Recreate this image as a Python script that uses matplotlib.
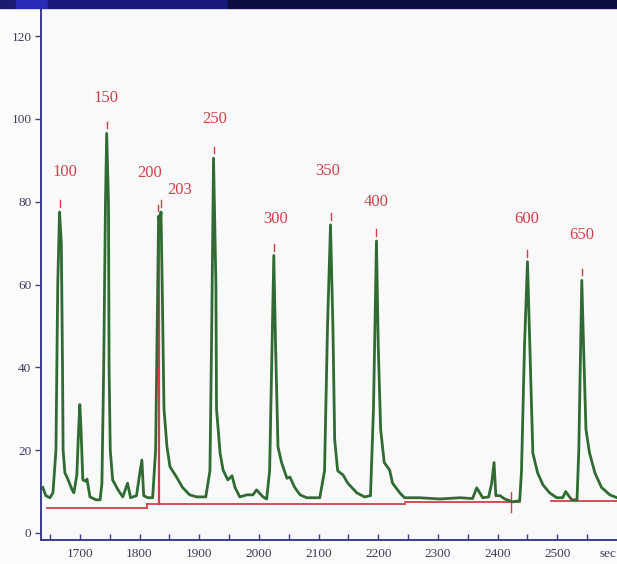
import matplotlib
matplotlib.use("Agg")
import matplotlib.pyplot as plt
from matplotlib.patches import Rectangle

# chromatogram trace (time in sec, signal)
trace_t = [1638, 1643, 1650, 1655, 1660, 1663, 1666, 1669, 1671, 1672, 1675, 1680,
           1687, 1690, 1695, 1698, 1700, 1702, 1705, 1710, 1712, 1717, 1727, 1734,
           1737, 1740, 1743, 1745, 1748, 1749, 1751, 1755, 1764, 1772, 1780, 1785,
           1795, 1800, 1804, 1807, 1814, 1822, 1827, 1831, 1832, 1834, 1836, 1838,
           1841, 1846, 1851, 1862, 1872, 1884, 1896, 1911, 1918, 1921, 1924, 1928,
           1929, 1935, 1940, 1948, 1955, 1960, 1968, 1980, 1990, 1996, 2007, 2013,
           2018, 2022, 2025, 2028, 2032, 2038, 2047, 2052, 2060, 2069, 2080, 2102,
           2110, 2115, 2120, 2124, 2127, 2132, 2141, 2149, 2164, 2177, 2187, 2192,
           2197, 2200, 2204, 2210, 2219, 2224, 2236, 2244, 2269, 2303, 2337, 2358,
           2365, 2375, 2385, 2390, 2394, 2397, 2404, 2412, 2425, 2437, 2440, 2445,
           2450, 2454, 2459, 2467, 2476, 2487, 2499, 2509, 2514, 2524, 2533, 2536,
           2539, 2541, 2544, 2548, 2554, 2563, 2574, 2588, 2600]
trace_y = [11, 9, 8.5, 9.7, 20, 60, 77.5, 70, 40, 20, 14.5, 13,
           10.4, 9.7, 14, 25, 31, 25, 12.8, 12.5, 13, 8.7, 8, 8,
           12, 40, 80, 96.5, 80, 40, 20, 12.8, 10.4, 8.7, 12, 8.5,
           9, 14, 17.6, 9, 8.5, 8.5, 20, 65, 76.5, 75, 77.5, 60,
           30, 20.8, 16, 13.5, 11, 9.2, 8.7, 8.7, 15, 50, 90.5, 60,
           30, 19.3, 15.2, 12.8, 13.8, 11, 8.7, 9.2, 9.2, 10.4, 8.7, 8.2,
           15, 45, 67, 45, 20.8, 17, 13.2, 13.5, 11, 9.2, 8.5, 8.5,
           15, 50, 74.4, 50, 22.5, 15, 14, 12, 9.7, 8.7, 9, 30,
           70.5, 45, 25, 17, 15.2, 12, 9.7, 8.5, 8.5, 8.2, 8.5, 8.3,
           10.9, 8.5, 8.7, 12, 17, 9, 9, 8.2, 7.5, 7.8, 15, 45,
           65.5, 45, 19.3, 14.5, 11.6, 9.7, 8.5, 8.5, 10, 8, 8, 20,
           45, 61, 45, 25, 19.3, 14.5, 11, 9.2, 8.5]

# integration baselines (start, end, level)
base_start = [1645, 1812, 2244, 2490]
base_end = [1812, 2244, 2437, 2600]
base_level = [6.0, 7.0, 7.5, 7.8]

# peak labels
peak_names = ["100", "150", "200", "203", "250", "300", "350", "400", "600", "650"]
peak_t = [1666, 1745, 1831, 1836, 1924, 2025, 2120, 2197, 2450, 2541]
peak_top = [77.5, 96.5, 76.5, 77.5, 90.5, 67, 74.4, 70.5, 65.5, 61]
label_t = [1675, 1744, 1817, 1867, 1926, 2028, 2115, 2197, 2449, 2541]
label_y = [85.3, 103, 85, 81, 98, 74, 85.5, 78, 74, 70]

x_ticks = [1700, 1800, 1900, 2000, 2100, 2200, 2300, 2400, 2500]
y_ticks = [0, 20, 40, 60, 80, 100, 120]

red = "#d0404c"
green = "#2f6b32"
navy = "#3b3b8c"
serif = ["Liberation Serif", "DejaVu Serif"]

fig = plt.figure(figsize=(6.17, 5.64), dpi=100, facecolor="#fcfcfc")

# dark title band at the very top
band = [(0.0, 0.026, "#1b1b72"), (0.026, 0.052, "#2a2ab6"),
        (0.078, 0.292, "#1a1a7c"), (0.37, 0.63, "#0d0d42")]
for x0, w, c in band:
    fig.patches.append(Rectangle((x0, 0.986), w, 0.014, transform=fig.transFigure,
                                 color=c, zorder=5))

ax = fig.add_axes([0.0665, 0.0426, 0.9335, 0.9397])
ax.set_facecolor("#f9f9f9")

for s, e, lv in zip(base_start, base_end, base_level):
    ax.plot([s, e], [lv, lv], color=red, lw=1.3, zorder=2)
ax.plot([1812, 1812], [6.0, 7.0], color=red, lw=1.3, zorder=2)
ax.plot([1833, 1833], [7.0, 76], color=red, lw=1.6, zorder=2)
ax.plot([2422, 2422], [5, 10], color=red, lw=1.0, zorder=2)

ax.plot(trace_t, trace_y, color=green, lw=2.0, zorder=3)

for n, pt, top, lt, ly in zip(peak_names, peak_t, peak_top, label_t, label_y):
    ax.plot([pt, pt], [top + 1.2, top + 2.8], color=red, lw=1.0, zorder=4)
    ax.text(lt, ly, n, color=red, fontsize=12, family=serif,
            ha="center", va="bottom")

ax.set_xlim(1635, 2600)
ax.set_ylim(-1.7, 126.3)
ax.set_xticks(x_ticks)
ax.set_xticks(range(1650, 2600, 50), minor=True)
ax.set_yticks(y_ticks)
ax.tick_params(axis="x", direction="in", length=4, width=1, color=navy,
               labelsize=9.5, labelcolor="#3a3a5a", pad=6)
ax.tick_params(axis="x", which="minor", direction="in", length=4, width=1, color=navy)
ax.tick_params(axis="y", direction="out", length=4, width=1, color=navy,
               labelsize=9.5, labelcolor="#3a3a5a", pad=3)
for lab in ax.get_xticklabels() + ax.get_yticklabels():
    lab.set_family(serif)

for side in ["top", "right"]:
    ax.spines[side].set_visible(False)
for side in ["left", "bottom"]:
    ax.spines[side].set_color(navy)
    ax.spines[side].set_linewidth(1.4)

ax.annotate("sec", xy=(2585, 0), xycoords=("data", "axes fraction"),
            xytext=(0, -6), textcoords="offset points", ha="center", va="top",
            fontsize=9.5, color="#3a3a5a", family=serif, annotation_clip=False)

fig.savefig("out.png", dpi=100, facecolor=fig.get_facecolor())
